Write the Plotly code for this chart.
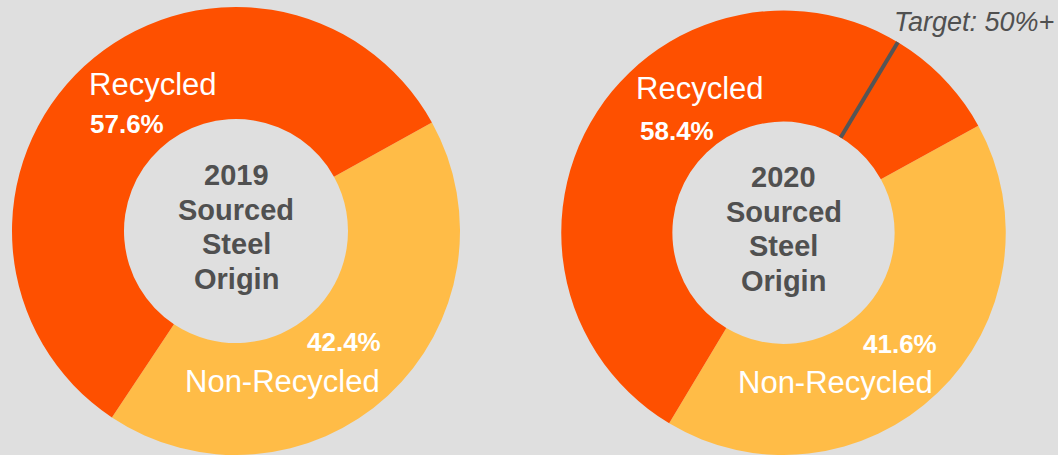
import math
import plotly.graph_objects as go

# ---- data ----
years = ["2019", "2020"]
categories = ["Non-Recycled", "Recycled"]
non_recycled = [42.4, 41.6]
recycled = [57.6, 58.4]
center_words = ["Sourced", "Steel", "Origin"]
target_share = 50.0
target_label = "Target: 50%+"

# ---- style ----
W, H = 1058, 455
BG = "#dfdfdf"
ORANGE = "#fe5000"
YELLOW = "#ffbc47"
GRAY = "#505050"
FONT = "Liberation Sans, Arial, sans-serif"

# pie geometry in pixels (center x, center y from top, radius)
geo = [(236, 231, 224), (783.5, 232.75, 222.25)]
rotations = [61.0, 61.2]
hole = 0.5

fig = go.Figure()
for i, yr in enumerate(years):
    cx, cy, r = geo[i]
    fig.add_trace(go.Pie(
        labels=categories,
        values=[non_recycled[i], recycled[i]],
        marker=dict(colors=[YELLOW, ORANGE], line=dict(width=0)),
        hole=hole,
        sort=False,
        direction="clockwise",
        rotation=rotations[i],
        textinfo="none",
        hoverinfo="label+percent",
        showlegend=False,
        domain=dict(x=[(cx - r) / W, (cx + r) / W],
                    y=[max(0, (H - cy - r) / H), (H - cy + r) / H]),
    ))

def px(x, y):
    return x / W, (H - y) / H

annotations = []
def ann(text, x, y, size, bold=False, color="white", italic=False):
    if bold:
        text = f"<b>{text}</b>"
    if italic:
        text = f"<i>{text}</i>"
    xx, yy = px(x, y)
    annotations.append(dict(text=text, x=xx, y=yy, xref="paper", yref="paper",
                            xanchor="center", yanchor="middle", showarrow=False,
                            font=dict(family=FONT, size=size, color=color)))

# label positions (pixels)
rec_lbl = [(152.5, 84), (699.5, 88.5)]
rec_pct = [(127, 124), (677, 131)]
non_pct = [(344, 342), (900, 343.5)]
non_lbl = [(282, 381), (835.5, 382)]
center_top = [175, 177]
line_gap = 34.5

for i, yr in enumerate(years):
    cx = geo[i][0]
    ann(categories[1], *rec_lbl[i], 31)
    ann(f"{recycled[i]:.1f}%", *rec_pct[i], 26, bold=True)
    ann(f"{non_recycled[i]:.1f}%", *non_pct[i], 26, bold=True)
    ann(categories[0], *non_lbl[i], 31)
    lines = [yr] + center_words
    for k, w in enumerate(lines):
        ann(w, cx, center_top[i] + k * line_gap, 29, bold=True, color=GRAY)

ann(target_label, 974, 22, 27, color=GRAY, italic=True)

# target line on 2020 donut (computed from data)
cx, cy, r = geo[1]
theta = math.radians(rotations[1] + (non_recycled[1] + target_share) / 100 * 360)
r_in, r_out = r * hole, r
x0, y0 = cx + r_in * math.sin(theta), cy - r_in * math.cos(theta)
x1, y1 = cx + r_out * math.sin(theta), cy - r_out * math.cos(theta)
p0, p1 = px(x0, y0), px(x1, y1)

fig.update_layout(
    width=W, height=H,
    margin=dict(l=0, r=0, t=0, b=0),
    paper_bgcolor=BG, plot_bgcolor=BG,
    annotations=annotations,
    shapes=[dict(type="line", xref="paper", yref="paper",
                 x0=p0[0], y0=p0[1], x1=p1[0], y1=p1[1],
                 line=dict(color="#555555", width=4))],
)

fig.write_html("out.html",
               config={"displayModeBar": False},
               post_script="document.body.style.margin='0';document.body.style.overflow='hidden';")
